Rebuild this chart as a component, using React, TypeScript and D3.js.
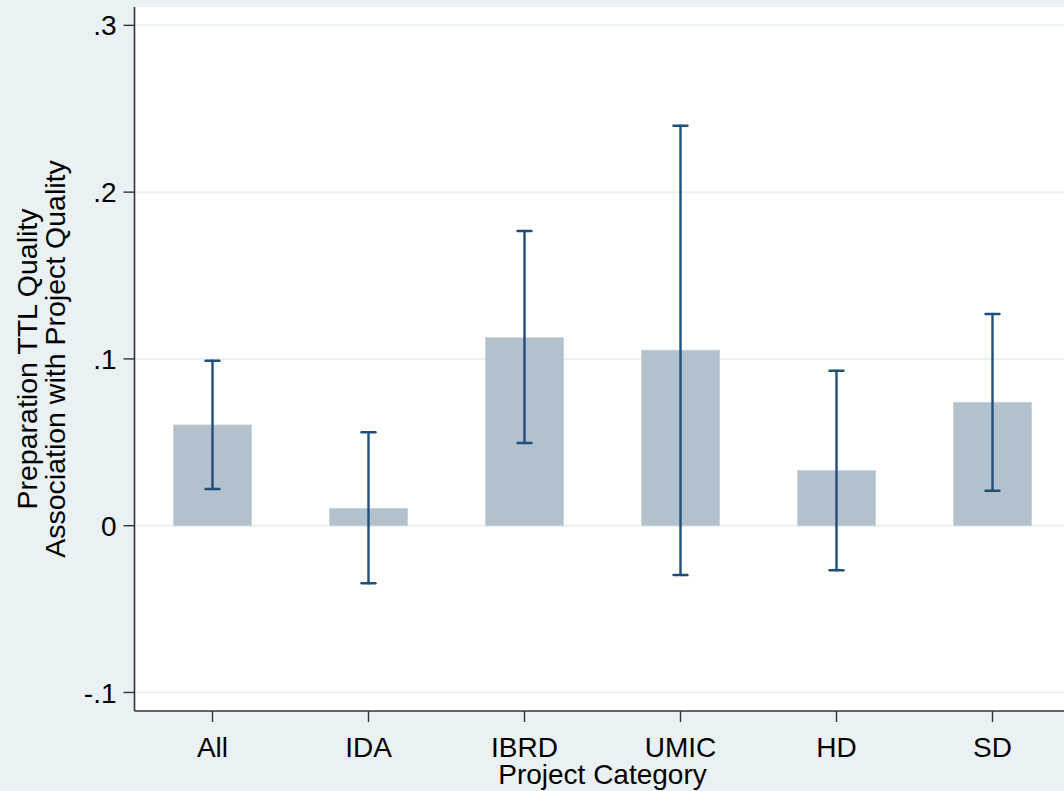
import React from "react";
import * as d3 from "d3";

const categories = ["All", "IDA", "IBRD", "UMIC", "HD", "SD"];
const estimates = [0.0604, 0.0104, 0.1127, 0.1052, 0.033, 0.074];
const ciLower = [0.022, -0.0345, 0.0496, -0.0296, -0.0267, 0.021];
const ciUpper = [0.0989, 0.056, 0.1767, 0.2398, 0.0929, 0.1269];
const yTicks = [-0.1, 0, 0.1, 0.2, 0.3];
const yTickLabels = ["-.1", "0", ".1", ".2", ".3"];
const yTitleLines = ["Preparation TTL Quality", "Association with Project Quality"];
const xTitle = "Project Category";

const W = 1064;
const H = 791;
const left = 134.5;
const top = 7;
const bottom = 711;
const right = 1070.5;
const FONT = "'Liberation Sans', Arial, sans-serif";

export default function App() {
  const x = d3.scaleBand<string>().domain(categories).range([left, right]).padding(0);
  const y = d3.scaleLinear().domain([-0.1111, 0.311]).range([bottom, top]);
  const bw = x.bandwidth() * 0.5;
  const cap = 7;
  const yMid = (top + bottom) / 2;

  return (
    <svg
      width={W}
      height={H}
      style={{ position: "absolute", left: 0, top: 0, display: "block" }}
      fontFamily={FONT}
    >
      <rect x={0} y={0} width={W} height={H} fill="#EAF1F3" />
      <rect x={left} y={top} width={W - left} height={bottom - top} fill="#FFFFFF" />
      {/* grid lines */}
      {yTicks.map((t) => (
        <line
          key={"g" + t}
          x1={left}
          x2={W}
          y1={y(t)}
          y2={y(t)}
          stroke="#EAF1F3"
          strokeWidth={2}
        />
      ))}
      {/* bars */}
      {categories.map((c, i) => {
        const cx = (x(c) as number) + x.bandwidth() / 2;
        const y0 = y(0);
        const y1 = y(estimates[i]);
        return (
          <rect
            key={"b" + c}
            x={cx - bw / 2}
            y={Math.min(y0, y1)}
            width={bw}
            height={Math.abs(y0 - y1)}
            fill="#B3C1CC"
            stroke="#C4D0D9"
            strokeWidth={0.8}
          />
        );
      })}
      {/* error bars */}
      {categories.map((c, i) => {
        const cx = (x(c) as number) + x.bandwidth() / 2;
        const lo = y(ciLower[i]);
        const hi = y(ciUpper[i]);
        return (
          <g key={"e" + c} stroke="#1F4E79" strokeWidth={2.4} strokeLinecap="round">
            <line x1={cx} x2={cx} y1={lo} y2={hi} />
            <line x1={cx - cap} x2={cx + cap} y1={lo} y2={lo} />
            <line x1={cx - cap} x2={cx + cap} y1={hi} y2={hi} />
          </g>
        );
      })}
      {/* axes */}
      <line x1={left} x2={left} y1={top} y2={bottom} stroke="#333333" strokeWidth={1.6} />
      <line x1={left} x2={W} y1={bottom} y2={bottom} stroke="#333333" strokeWidth={1.6} />
      {yTicks.map((t, i) => (
        <g key={"yt" + t}>
          <line x1={left - 11} x2={left} y1={y(t)} y2={y(t)} stroke="#333333" strokeWidth={1.4} />
          <text
            x={left - 18}
            y={y(t)}
            dy="0.36em"
            textAnchor="end"
            fontSize={28}
            fill="#000"
          >
            {yTickLabels[i]}
          </text>
        </g>
      ))}
      {categories.map((c) => {
        const cx = (x(c) as number) + x.bandwidth() / 2;
        return (
          <g key={"xt" + c}>
            <line x1={cx} x2={cx} y1={bottom} y2={bottom + 11} stroke="#333333" strokeWidth={1.4} />
            <text x={cx} y={757} textAnchor="middle" fontSize={28} fill="#000">
              {c}
            </text>
          </g>
        );
      })}
      <text x={(left + right) / 2} y={784} textAnchor="middle" fontSize={28} fill="#000">
        {xTitle}
      </text>
      {yTitleLines.map((line, i) => (
        <text
          key={"yl" + i}
          transform={`translate(${37 + i * 28},${yMid}) rotate(-90)`}
          textAnchor="middle"
          fontSize={28.5}
          fill="#000"
        >
          {line}
        </text>
      ))}
    </svg>
  );
}
